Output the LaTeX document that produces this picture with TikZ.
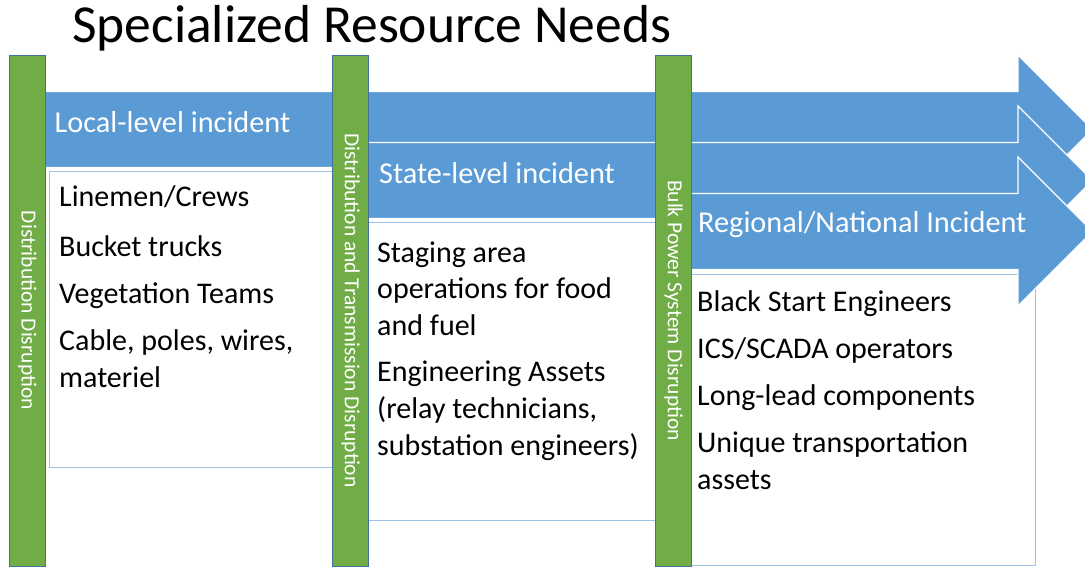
\documentclass[tikz,border=0pt]{standalone}
\usepackage{fontspec}
\setmainfont{Carlito}
\usepackage{xcolor}
\usetikzlibrary{calc}
\definecolor{flowblue}{HTML}{5B9BD5}
\definecolor{bargreen}{HTML}{70AD47}
\definecolor{baredge}{HTML}{41719C}
\definecolor{boxedge}{HTML}{9DC3E6}
\tikzset{
  flow/.style={fill=flowblue, draw=white, line width=1.2pt, line join=miter},
  itembox/.style={fill=white, draw=boxedge, line width=0.9pt},
  barrect/.style={fill=bargreen, draw=baredge, line width=0.7pt, rotate=-90,
    minimum width=511pt, minimum height=36.5pt, inner sep=0pt,
    text=white, font=\fontsize{21.5}{26}\selectfont},
  flowlab/.style={text=white, font=\fontsize{30.3}{36}\selectfont, anchor=base west, inner sep=0pt},
  itemlab/.style={text=black, font=\fontsize{30}{36}\selectfont, anchor=base west, inner sep=0pt},
  titlelab/.style={text=black, font=\fontsize{53.5}{60}\selectfont, anchor=base west, inner sep=0pt},
}
\begin{document}
\begin{tikzpicture}[x=1pt,y=-1pt]
  \useasboundingbox (0,0) rectangle (1085,567);
  \clip (0,0) rectangle (1085,567);

  \node[titlelab] (title) at (72,43) {Specialized Resource Needs};

  % white lists under the arrows
  \draw[itembox] (49,171) rectangle (340,467);
  \draw[itembox] (345,222) rectangle (665,520);
  \draw[itembox] (670,274) rectangle (1035,565);

  \draw[flow] (30,91.5) -- (1018,91.5) -- (1018,55) -- (1092.5,129.5)
    -- (1018,204) -- (1018,167.5) -- (30,167.5) -- cycle;
  \draw[flow] (345,142.5) -- (1018,142.5) -- (1018,106) -- (1092.5,180.5)
    -- (1018,255) -- (1018,218.5) -- (345,218.5) -- cycle;
  \draw[flow] (665,193.5) -- (1018,193.5) -- (1018,157) -- (1092.5,231.5)
    -- (1018,306) -- (1018,269.5) -- (665,269.5) -- cycle;

  \node[flowlab] (local) at (54.5,133) {Local-level incident};
  \node[flowlab] (state) at (379,183) {State-level incident};
  \node[flowlab] (region) at (698,233) {Regional/National Incident};

  \node[itemlab] (crews) at (59,207) {Linemen/Crews};
  \node[itemlab] (trucks) at (59,256) {Bucket trucks};
  \node[itemlab] (veg) at (59,303) {Vegetation Teams};
  \node[itemlab] (cable) at (59,350.5) {Cable, poles, wires,};
  \node[itemlab] (mat) at (59,387) {materiel};

  \node[itemlab] (staging) at (377,262) {Staging area};
  \node[itemlab] (ops) at (377,298) {operations for food};
  \node[itemlab] (fuel) at (377,335) {and fuel};
  \node[itemlab] (eng) at (377,381) {Engineering Assets};
  \node[itemlab] (relay) at (377,418) {(relay technicians,};
  \node[itemlab] (subst) at (377,455) {substation engineers)};

  \node[itemlab] (black) at (697,311) {Black Start Engineers};
  \node[itemlab] (scada) at (697,358) {ICS/SCADA operators};
  \node[itemlab] (lead) at (697,405.5) {Long-lead components};
  \node[itemlab] (uniq) at (697,452.5) {Unique transportation};
  \node[itemlab] (assets) at (697,489) {assets};

  \node[barrect] (distbar) at (27.3,310.5) {Distribution Disruption};
  \node[barrect] (transbar) at (350.5,310.5) {Distribution and Transmission Disruption};
  \node[barrect] (bulkbar) at (673.5,310.5) {Bulk Power System Disruption};
\end{tikzpicture}
\end{document}
